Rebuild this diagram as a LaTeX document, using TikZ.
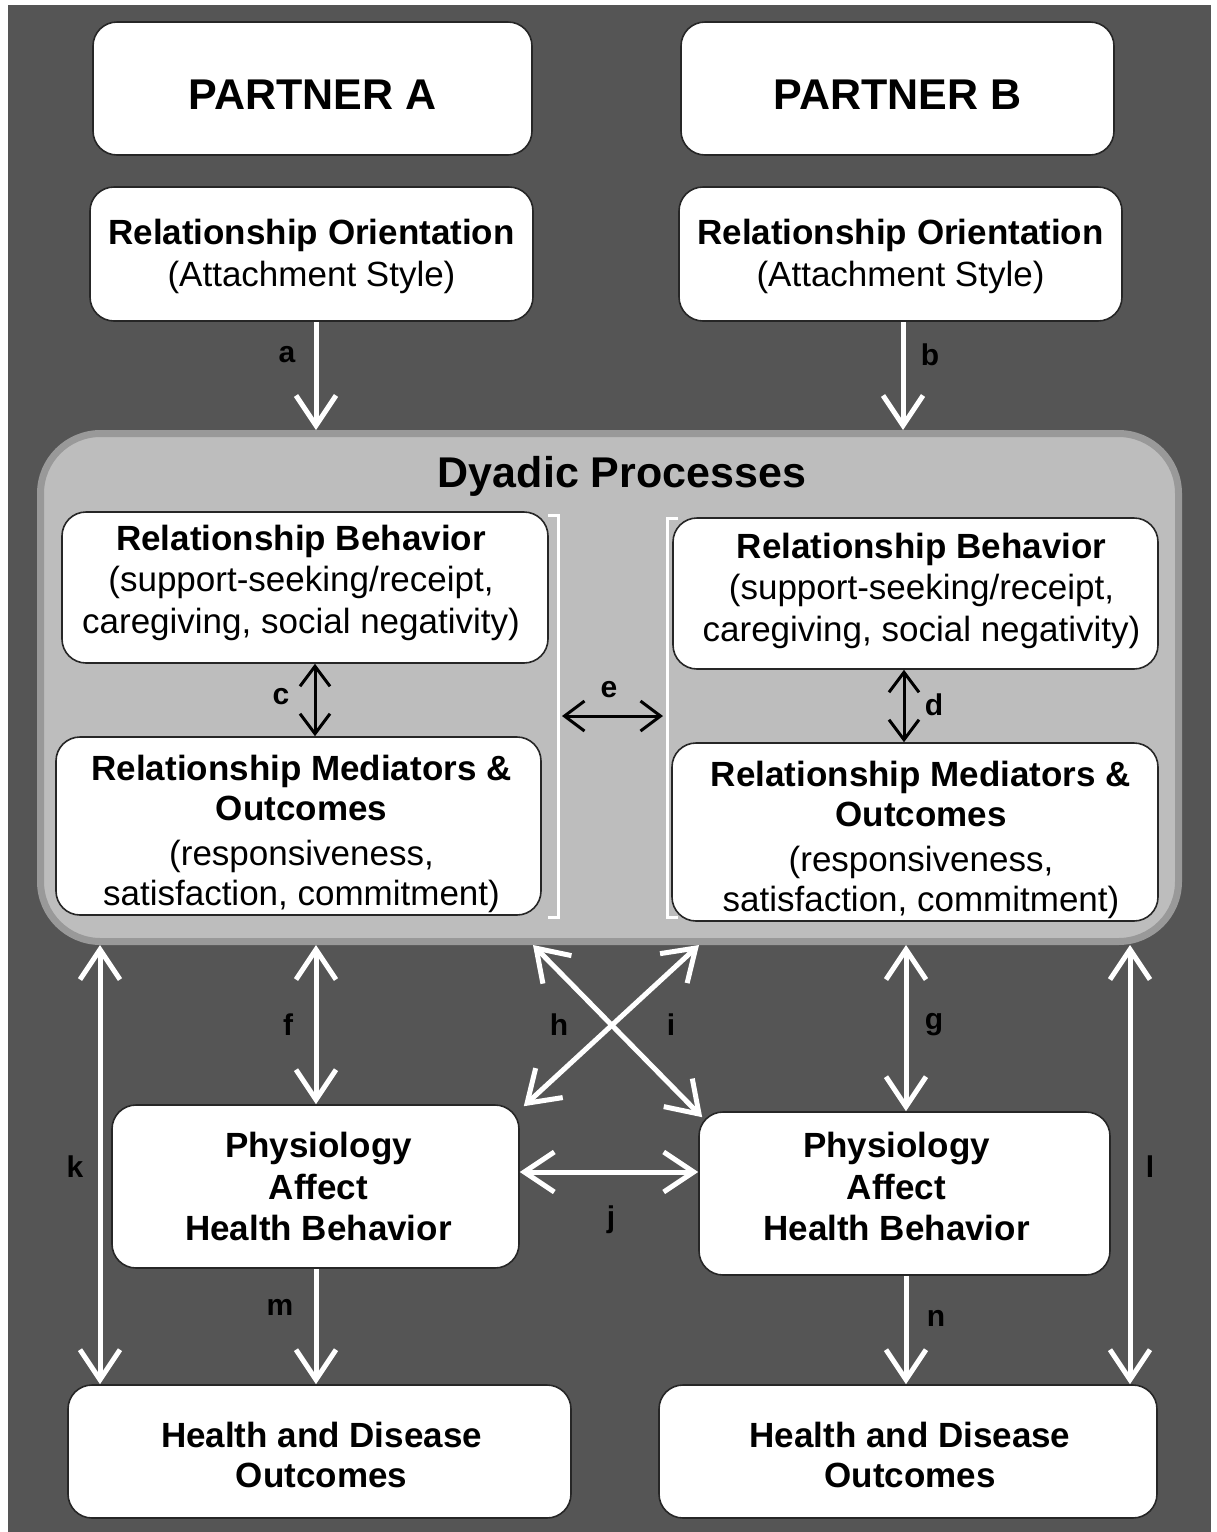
\documentclass[tikz,border=0pt]{standalone}
\usepackage{fontspec}
\setmainfont{Liberation Sans}
\usetikzlibrary{arrows.meta,calc}
\definecolor{bgdark}{HTML}{555555}
\definecolor{dyfill}{HTML}{BDBDBD}
\definecolor{dyedge}{HTML}{999999}
\definecolor{boxedge}{HTML}{262626}
\newcommand{\bigbold}{\fontsize{43}{50}\selectfont\bfseries}
\newcommand{\boxtxt}{\fontsize{35}{41.5}\selectfont}
\begin{document}
\begin{tikzpicture}[x=1pt,y=-1pt,
  box/.style={draw=boxedge, line width=1.6pt, fill=white, rounded corners=24pt, inner sep=0pt},
  txt/.style={inner sep=0pt, align=center, font=\boxtxt},
  warrow/.style={draw=white, line width=5pt, -{Straight Barb[length=30pt,width=40pt]}},
  wdarrow/.style={draw=white, line width=5pt,
    {Straight Barb[length=30pt,width=40pt]}-{Straight Barb[length=30pt,width=40pt]}},
  bdarrow/.style={draw=black, line width=3pt,
    {Straight Barb[length=20pt,width=30pt]}-{Straight Barb[length=20pt,width=30pt]}},
  lbl/.style={font=\fontsize{30}{30}\selectfont\bfseries, text=black, inner sep=0pt},
  bracket/.style={draw=white, line width=3pt}
]
% page and dark panel
\fill[white] (0,0) rectangle (1216,1532);
\fill[bgdark] (8,5) rectangle (1211,1532);

% partner headers
\node[box, minimum width=439pt, minimum height=133pt] (pA) at (312.5,88.5) {};
\node[txt, font=\bigbold] (pAt) at ([yshift=-6.5pt]pA.center) {PARTNER A};
\node[box, minimum width=433pt, minimum height=133pt] (pB) at (897.5,88.5) {};
\node[txt, font=\bigbold] (pBt) at ([yshift=-6.5pt]pB.center) {PARTNER B};

% relationship orientation
\node[box, minimum width=443pt, minimum height=134pt] (oA) at (311.5,254) {};
\node[txt] (oAt) at ([yshift=-2.5pt]oA.center)
  {{\bfseries Relationship Orientation}\\(Attachment Style)};
\node[box, minimum width=443pt, minimum height=134pt] (oB) at (900.5,254) {};
\node[txt] (oBt) at ([yshift=-2.5pt]oB.center)
  {{\bfseries Relationship Orientation}\\(Attachment Style)};

% dyadic processes panel
\node[draw=dyedge, fill=dyfill, line width=7pt, rounded corners=60pt,
  minimum width=1138pt, minimum height=508pt] (dyad) at (609.5,687.5) {};
\node[font=\bigbold, inner sep=0pt] (dtitle) at (622,476) {Dyadic Processes};

\node[box, minimum width=486pt, minimum height=151pt] (rbA) at (305,587.5) {};
\node[txt] (rbAt) at ([shift={(-4pt,5pt)}]rbA.center)
  {{\bfseries Relationship Behavior}\\(support-seeking/receipt,\\caregiving, social negativity)};
\node[box, minimum width=485pt, minimum height=151pt] (rbB) at (915.5,593.5) {};
\node[txt] (rbBt) at ([shift={(6pt,3pt)}]rbB.center)
  {{\bfseries Relationship Behavior}\\(support-seeking/receipt,\\caregiving, social negativity)};
\node[box, minimum width=485pt, minimum height=178pt] (mdA) at (298.5,826) {};
\node[txt, font=\fontsize{35}{40}\selectfont] (mdAt) at ([shift={(3pt,-7.5pt)}]mdA.center)
  {{\bfseries Relationship Mediators \&}\\{\bfseries Outcomes}\\[5pt](responsiveness,\\satisfaction, commitment)};
\node[box, minimum width=486pt, minimum height=178pt] (mdB) at (915,832) {};
\node[txt, font=\fontsize{35}{40}\selectfont] (mdBt) at ([shift={(6pt,-8pt)}]mdB.center)
  {{\bfseries Relationship Mediators \&}\\{\bfseries Outcomes}\\[5pt](responsiveness,\\satisfaction, commitment)};

% brackets grouping each partner
\draw[bracket] (548,515) -- (558,515) -- (558,917) -- (548,917);
\draw[bracket] (678,518) -- (667,518) -- (667,917) -- (678,917);
\coordinate (brL) at (562,716);
\coordinate (brR) at (663,716);

% physiology and outcomes
\node[box, minimum width=407pt, minimum height=163pt] (phA) at (315.5,1186.5) {};
\node[txt, font=\boxtxt\bfseries] (phAt) at ([shift={(3pt,0pt)}]phA.center)
  {Physiology\\Affect\\Health Behavior};
\node[box, minimum width=411pt, minimum height=163pt] (phB) at (904.5,1193.5) {};
\node[txt, font=\boxtxt\bfseries] (phBt) at ([shift={(-8pt,7pt)}]phB.center)
  {Physiology\\Affect\\Health Behavior};
\node[box, minimum width=503pt, minimum height=133pt] (hA) at (319.5,1451.5) {};
\node[txt, font=\fontsize{35}{40.5}\selectfont\bfseries] (hAt) at ([shift={(2pt,-3.5pt)}]hA.center)
  {Health and Disease\\Outcomes};
\node[box, minimum width=498pt, minimum height=133pt] (hB) at (908,1451.5) {};
\node[txt, font=\fontsize{35}{40.5}\selectfont\bfseries] (hBt) at ([shift={(2pt,-3.5pt)}]hB.center)
  {Health and Disease\\Outcomes};

% x / y guides for connectors
\coordinate (ax) at (316,0);
\coordinate (bx) at (903,0);
\coordinate (cx) at (315,0);
\coordinate (dx) at (904,0);
\coordinate (fx) at (316,0);
\coordinate (gx) at (906,0);
\coordinate (hx) at (533,0);
\coordinate (ix) at (699,0);
\coordinate (kx) at (100,0);
\coordinate (lx) at (1130,0);
\coordinate (mx) at (316,0);
\coordinate (nx) at (906,0);
\coordinate (jy) at (0,1172);

% connectors
\draw[warrow] (ax |- oA.south) -- (ax |- dyad.north);
\draw[warrow] (bx |- oB.south) -- (bx |- dyad.north);
\draw[bdarrow] (cx |- rbA.south) -- (cx |- mdA.north);
\draw[bdarrow] (dx |- rbB.south) -- (dx |- mdB.north);
\draw[bdarrow] (brL) -- (brR);
\draw[wdarrow] (fx |- dyad.south) -- (fx |- phA.north);
\draw[wdarrow] (gx |- dyad.south) -- (gx |- phB.north);
\draw[wdarrow] (hx |- dyad.south) -- ([shift={(4pt,-6pt)}]phB.north west);
\draw[wdarrow] (ix |- dyad.south) -- ([shift={(4pt,-2pt)}]phA.north east);
\draw[wdarrow] (phA.east |- jy) -- (phB.west |- jy);
\draw[wdarrow] (kx |- dyad.south) -- (kx |- hA.north);
\draw[wdarrow] (lx |- dyad.south) -- (lx |- hB.north);
\draw[warrow] (mx |- phA.south) -- (mx |- hA.north);
\draw[warrow] (nx |- phB.south) -- (nx |- hB.north);

% path labels
\node[lbl] (la) at (287,355) {a};
\node[lbl] (lb) at (930,355) {b};
\node[lbl] (lc) at (281,697) {c};
\node[lbl] (ld) at (934,705) {d};
\node[lbl] (le) at (609,690) {e};
\node[lbl] (lf) at (288,1025) {f};
\node[lbl] (lg) at (934,1025) {g};
\node[lbl] (lh) at (559,1025) {h};
\node[lbl] (li) at (671,1025) {i};
\node[lbl] (lj) at (611,1220) {j};
\node[lbl] (lk) at (75,1167) {k};
\node[lbl] (ll) at (1150,1167) {l};
\node[lbl] (lm) at (280,1307) {m};
\node[lbl] (ln) at (936,1318) {n};
\end{tikzpicture}
\end{document}
